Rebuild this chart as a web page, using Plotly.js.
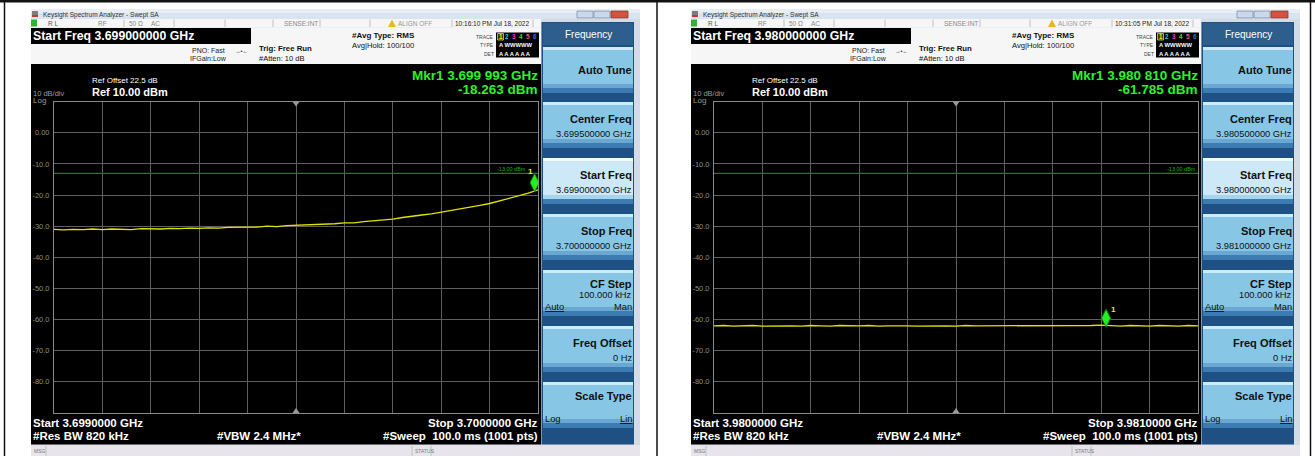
<!DOCTYPE html>
<html>
<head>
<meta charset="utf-8">
<script src="https://cdn.plot.ly/plotly-3.0.1.min.js"></script>
<style>html,body{margin:0;padding:0;background:#fff;}#chart{width:1315px;height:456px;}</style>
</head>
<body>
<div id="chart"></div>
<script>
// ---------------- data ----------------
const freq1 = [3.69900,3.69902,3.69904,3.69906,3.69908,3.69910,3.69912,3.69914,3.69916,3.69918,
  3.69920,3.69922,3.69924,3.69926,3.69928,3.69930,3.69932,3.69934,3.69936,3.69938,
  3.69940,3.69942,3.69944,3.69946,3.69948,3.69950,3.69952,3.69954,3.69956,3.69958,
  3.69960,3.69962,3.69964,3.69966,3.69968,3.69970,3.69972,3.69974,3.69976,3.69978,
  3.69980,3.69982,3.69984,3.69986,3.69988,3.69990,3.69992,3.69994,3.69996,3.69998,3.70000];
const level1 = [-31.0,-31.2,-31.0,-31.1,-30.9,-31.1,-30.9,-31.0,-31.1,-30.8,
  -30.9,-30.9,-30.7,-30.8,-30.6,-30.7,-30.5,-30.6,-30.4,-30.4,
  -30.2,-30.3,-30.0,-30.1,-29.8,-29.7,-29.6,-29.6,-29.3,-29.2,
  -28.9,-28.9,-28.5,-28.3,-27.9,-27.7,-27.2,-26.9,-26.4,-26.0,
  -25.5,-25.0,-24.5,-24.0,-23.3,-22.7,-21.9,-21.2,-20.3,-19.4,-18.3];
const freq2 = [3.98000,3.98002,3.98004,3.98006,3.98008,3.98010,3.98012,3.98014,3.98016,3.98018,
  3.98020,3.98022,3.98024,3.98026,3.98028,3.98030,3.98032,3.98034,3.98036,3.98038,
  3.98040,3.98042,3.98044,3.98046,3.98048,3.98050,3.98052,3.98054,3.98056,3.98058,
  3.98060,3.98062,3.98064,3.98066,3.98068,3.98070,3.98072,3.98074,3.98076,3.98078,
  3.98080,3.98082,3.98084,3.98086,3.98088,3.98090,3.98092,3.98094,3.98096,3.98098,3.98100];
const level2 = [-62.0,-61.9,-62.1,-62.0,-61.9,-62.1,-62.0,-61.9,-62.0,-62.1,
  -61.9,-62.0,-62.1,-61.9,-62.0,-62.0,-61.9,-62.1,-62.0,-61.9,
  -62.0,-62.1,-62.0,-61.9,-62.0,-62.1,-61.9,-62.0,-62.0,-62.1,
  -61.9,-62.0,-62.1,-61.9,-62.0,-62.0,-61.9,-62.1,-62.0,-61.9,
  -61.8,-62.0,-62.1,-61.9,-62.0,-62.1,-61.9,-62.0,-62.1,-61.9,-62.0];
const spanStart = [3.699, 3.980];
const spanStop = [3.700, 3.981];
const limitLevel = -13.0;
const mkrFreq = [3.699993, 3.980810];
const mkrLevel = [-18.263, -61.785];
const refLevel = 10, bottomLevel = -90;
const yTickVals = [0,-10,-20,-30,-40,-50,-60,-70,-80];
const yTickText = ['0.00','-10.0','-20.0','-30.0','-40.0','-50.0','-60.0','-70.0','-80.0'];
const startFreqText = ['Start Freq 3.699000000 GHz','Start Freq 3.980000000 GHz'];
const timeText = ['10:16:10 PM Jul 18, 2022','10:31:05 PM Jul 18, 2022'];
const mkrFreqText = ['Mkr1 3.699 993 GHz','Mkr1 3.980 810 GHz'];
const mkrLevelText = ['-18.263 dBm','-61.785 dBm'];
const centerText = ['3.699500000 GHz','3.980500000 GHz'];
const startText = ['3.699000000 GHz','3.980000000 GHz'];
const stopText = ['3.700000000 GHz','3.981000000 GHz'];
const bottomStart = ['Start 3.6990000 GHz','Start 3.9800000 GHz'];
const bottomStop = ['Stop 3.7000000 GHz','Stop 3.9810000 GHz'];

// ---------------- helpers ----------------
const W = 1315, H = 456;
const FONT = 'Liberation Sans, Arial, sans-serif';
const px = v => v / W;
const py = v => 1 - v / H;
const shapes = [], annotations = [];
function rect(x0, y0, x1, y1, fill, lc, lw) {
  shapes.push({type:'rect', xref:'paper', yref:'paper', x0:px(x0), x1:px(x1), y0:py(y1), y1:py(y0),
    fillcolor:fill, line:{width: lc ? (lw||1) : 0, color: lc || fill}, layer:'below'});
}
function line(x0, y0, x1, y1, color, w) {
  shapes.push({type:'line', xref:'paper', yref:'paper', x0:px(x0), x1:px(x1), y0:py(y0), y1:py(y1),
    line:{width:w||1, color:color}, layer:'above'});
}
function poly(pts, fill) {
  const d = pts.map((p,i)=>(i?'L':'M')+px(p[0]).toFixed(5)+','+py(p[1]).toFixed(5)).join(' ')+' Z';
  shapes.push({type:'path', xref:'paper', yref:'paper', path:d, fillcolor:fill, line:{width:0}, layer:'above'});
}
function text(x, y, t, o) {
  o = o || {};
  annotations.push({xref:'paper', yref:'paper', x:px(x), y:py(y), text:t, showarrow:false,
    xanchor:o.anchor||'left', yanchor:'middle', borderpad:0,
    font:{family:FONT, size:o.size||8, color:o.color||'#000', weight:o.bold?700:400}});
}

// ---------------- chrome for one analyzer screen ----------------
function screen(i) {
  const o = i * 660;
  const X = v => v + o;
  // window frame
  rect(X(31), 9, X(640), 456, '#d3dbe5');
  rect(X(31), 9, X(640), 19, '#d9e4f0');
  rect(X(31), 9, X(640), 13, '#e7eef6');
  rect(X(32), 11, X(38), 17, '#7d7d7d');
  rect(X(32), 15, X(38), 17, '#c43a32');
  text(X(42), 14.5, 'Keysight Spectrum Analyzer - Swept SA', {size:6.5, color:'#333'});
  rect(X(577), 11, X(593), 18, '#c9d8ea', '#7d90a8', 0.8);
  rect(X(594), 11, X(610), 18, '#c9d8ea', '#7d90a8', 0.8);
  rect(X(611), 11, X(628), 18, '#d4533f', '#8c3a2c', 0.8);
  // status row
  rect(X(31), 19, X(541), 27.5, '#f6f6f6');
  [124, 174, 225, 273, 320, 370, 452, 533].forEach(v => line(X(v), 19.5, X(v), 27, '#b5b5b5', 0.8));
  rect(X(31), 19.5, X(37), 26.5, '#35b035');
  text(X(47), 23.3, 'R L', {size:6.5, color:'#555'});
  text(X(97), 23.3, 'RF', {size:6.5, color:'#888'});
  text(X(128), 23.3, '50 Ω', {size:6.5, color:'#888'});
  text(X(150), 23.3, 'AC', {size:6.5, color:'#888'});
  text(X(283), 23.3, 'SENSE:INT', {size:6.5, color:'#888'});
  poly([[X(388),27],[X(392),19.5],[X(396),27]], '#e8b820');
  text(X(397), 23.3, 'ALIGN OFF', {size:6.5, color:'#999'});
  text(X(454), 23.3, timeText[i], {size:6.5, color:'#222'});
  // info area
  rect(X(31), 27.5, X(541), 64, '#f6f6f6');
  rect(X(31), 28, X(251), 44, '#000');
  text(X(32), 36.3, startFreqText[i], {size:12.3, bold:true, color:'#fff'});
  text(X(191), 50.5, 'PNO: Fast', {size:7, color:'#222'});
  text(X(234), 50.5, '→•←', {size:5.5, color:'#222'});
  text(X(189), 58.5, 'IFGain:Low', {size:7, color:'#222'});
  text(X(258), 48.2, 'Trig: Free Run', {size:7.8, bold:true, color:'#111'});
  text(X(258), 58.8, '#Atten: 10 dB', {size:7.5, color:'#111'});
  text(X(351), 35.8, '#Avg Type: RMS', {size:8, bold:true, color:'#111'});
  text(X(351), 45.8, 'Avg|Hold: 100/100', {size:7.6, color:'#111'});
  rect(X(496), 32.5, X(539), 57.5, '#000');
  text(X(495), 36.5, 'TRACE', {size:5, color:'#444', anchor:'right'});
  text(X(495), 45.2, 'TYPE', {size:5, color:'#444', anchor:'right'});
  text(X(495), 53.5, 'DET', {size:5, color:'#444', anchor:'right'});
  rect(X(497.5), 33.5, X(503.5), 40, '#3a3a00', '#e0e000', 0.8);
  const tc = ['#f0f000','#18c8f0','#e040e0','#30e030','#ff5080','#4060ff'];
  ['1','2','3','4','5','6'].forEach((t,k) => text(X(500.5 + k*6.9), 36.8, t, {size:6.3, bold:true, color:tc[k], anchor:'center'}));
  text(X(497.5), 45.2, 'A WWWWW', {size:5.8, bold:true, color:'#fff'});
  text(X(497.5), 53.5, 'A A A A A A', {size:5.8, bold:true, color:'#fff'});
  // display
  rect(X(31), 64, X(541), 444.5, '#000');
  text(X(91), 81, 'Ref Offset 22.5 dB', {size:8, color:'#fff'});
  text(X(91), 92.3, 'Ref 10.00 dBm', {size:11, bold:true, color:'#fff'});
  text(X(32), 93, '10 dB/div', {size:7.5, color:'#999'});
  text(X(32), 100, 'Log', {size:8, color:'#999'});
  text(X(538.5), 75, mkrFreqText[i], {size:13.5, bold:true, color:'#2ef02e', anchor:'right'});
  text(X(538.5), 89, mkrLevelText[i], {size:13.5, bold:true, color:'#2ef02e', anchor:'right'});
  text(X(i ? 537 : 527), 168.5, '-13.00 dBm', {size:5.5, color:'#1fb01f', anchor:'right'});
  poly([[X(292.5),101.5],[X(299.5),101.5],[X(296),106.5]], '#9a9a9a');
  poly([[X(292.5),413],[X(299.5),413],[X(296),408]], '#9a9a9a');
  text(X(32), 423, bottomStart[i], {size:11.5, bold:true, color:'#fff'});
  text(X(32), 436, '#Res BW 820 kHz', {size:11.5, bold:true, color:'#fff'});
  text(X(216), 436, '#VBW 2.4 MHz*', {size:11.5, bold:true, color:'#fff'});
  text(X(538.5), 423, bottomStop[i], {size:11.5, bold:true, color:'#fff', anchor:'right'});
  text(X(538.5), 436, '#Sweep  100.0 ms (1001 pts)', {size:11.5, bold:true, color:'#fff', anchor:'right'});
  // msg bar
  rect(X(31), 445, X(640), 456, '#e7e5eb');
  line(X(46), 446, X(46), 456, '#b8b8b8', 0.8);
  line(X(412), 446, X(412), 456, '#b8b8b8', 0.8);
  line(X(431), 446, X(431), 456, '#b8b8b8', 0.8);
  text(X(32.5), 451, 'MSG', {size:5, color:'#777'});
  text(X(413.5), 451, 'STATUS', {size:5, color:'#777'});
  // softkeys
  rect(X(541.5), 22, X(634), 444.5, '#1f5084');
  rect(X(543), 23, X(633), 45, '#2e5e8e');
  text(X(588), 34, 'Frequency', {size:10, color:'#fff', anchor:'center'});
  const tops = [47, 102, 158, 214, 270, 326, 382];
  tops.forEach((t,k) => {
    const sel = (k === 2);
    rect(X(543), t, X(633), t+3, sel ? '#f2fafe' : '#cfeaf8');
    rect(X(543), t+3, X(633), t+37, sel ? '#cde8f6' : '#88c6e6');
    rect(X(543), t+37, X(633), t+41, sel ? '#a8d3ec' : '#6aa8d2');
    rect(X(543), t+41, X(633), t+46, '#3d7cb2');
  });
  const R = X(632.5);
  text(R, 70, 'Auto Tune', {size:11, bold:true, anchor:'right', color:'#111'});
  text(R, 119, 'Center Freq', {size:11, bold:true, anchor:'right', color:'#111'});
  text(R, 133.5, centerText[i], {size:9.3, anchor:'right', color:'#111'});
  text(R, 175, 'Start Freq', {size:11, bold:true, anchor:'right', color:'#111'});
  text(R, 189.5, startText[i], {size:9.3, anchor:'right', color:'#111'});
  text(R, 231, 'Stop Freq', {size:11, bold:true, anchor:'right', color:'#111'});
  text(R, 245.5, stopText[i], {size:9.3, anchor:'right', color:'#111'});
  text(R, 283.5, 'CF Step', {size:11, bold:true, anchor:'right', color:'#111'});
  text(R, 295, '100.000 kHz', {size:9.3, anchor:'right', color:'#111'});
  text(R, 306.5, 'Man', {size:9.3, anchor:'right', color:'#111'});
  text(X(544), 306.5, '<u>Auto</u>', {size:9.3, color:'#111'});
  text(R, 343, 'Freq Offset', {size:11, bold:true, anchor:'right', color:'#111'});
  text(R, 358, '0 Hz', {size:9.3, anchor:'right', color:'#111'});
  text(R, 395.5, 'Scale Type', {size:11, bold:true, anchor:'right', color:'#111'});
  text(X(544), 419, 'Log', {size:9.3, color:'#111'});
  text(R, 419, '<u>Lin</u>', {size:9.3, anchor:'right', color:'#111'});
}
screen(0);
screen(1);

// page (table) borders
rect(0, 0, W, 2.5, '#111');
line(4.5, 0, 4.5, H, '#111', 1.5);
line(657, 0, 657, H, '#111', 1.5);
line(1310.5, 0, 1310.5, H, '#111', 1.5);

// ---------------- traces ----------------
const gridTop = 101.7, gridBot = 413;
const dbPerPx = (refLevel - bottomLevel) / (gridBot - gridTop);
const diamondLift = 7 * dbPerPx; // diamond sits on the trace point
const TRACE_COLOR = '#e2e200';
const traces = [];
const sets = [[freq1, level1], [freq2, level2]];
sets.forEach((s, i) => {
  const xa = i ? 'x2' : 'x', ya = i ? 'y2' : 'y';
  traces.push({x:[spanStart[i], spanStop[i]], y:[limitLevel, limitLevel], xaxis:xa, yaxis:ya,
    mode:'lines', line:{color:'#0a8a0a', width:1.2}, hoverinfo:'skip'});
  traces.push({x:s[0], y:s[1], xaxis:xa, yaxis:ya, mode:'lines', line:{color:TRACE_COLOR, width:1.3}, hoverinfo:'skip'});
  traces.push({x:[mkrFreq[i]], y:[mkrLevel[i] + diamondLift], xaxis:xa, yaxis:ya, mode:'markers',
    marker:{symbol:'diamond-tall', size:13, color:'#22ee22', line:{color:'#0a7a0a', width:0.8}}, hoverinfo:'skip'});
  annotations.push({xref:xa, yref:ya, x:mkrFreq[i], y:mkrLevel[i], text:'1', showarrow:false,
    xshift: i ? 7 : -4, yshift: i ? 16 : 18, font:{family:FONT, size:8, color:'#f0f000', weight:700}});
});

function xaxisCfg(i) {
  return {domain:[px(54 + i*660), px(538 + i*660)], range:[spanStart[i], spanStop[i]],
    tick0: spanStart[i], dtick: (spanStop[i]-spanStart[i])/10, showticklabels:false, ticks:'',
    showgrid:true, gridcolor:'#5f5f5f', gridwidth:1, zeroline:false,
    showline:true, mirror:true, linecolor:'#8a8a8a', linewidth:1, fixedrange:true,
    anchor: i ? 'y2' : 'y'};
}
function yaxisCfg(i) {
  return {domain:[1 - gridBot/H, 1 - gridTop/H], range:[bottomLevel, refLevel],
    tickvals:yTickVals, ticktext:yTickText, ticks:'', ticklabelstandoff:2,
    tickfont:{family:FONT, size:7.5, color:'#8e8e8e'},
    showgrid:true, gridcolor:'#5f5f5f', gridwidth:1, zeroline:false,
    showline:true, mirror:true, linecolor:'#8a8a8a', linewidth:1, fixedrange:true,
    anchor: i ? 'x2' : 'x'};
}

const layout = {
  width:W, height:H, autosize:false,
  margin:{l:0, r:0, t:0, b:0, pad:0},
  paper_bgcolor:'#ffffff', plot_bgcolor:'#000000',
  showlegend:false, hovermode:false,
  xaxis:xaxisCfg(0), yaxis:yaxisCfg(0),
  xaxis2:xaxisCfg(1), yaxis2:yaxisCfg(1),
  shapes:shapes, annotations:annotations
};
Plotly.newPlot('chart', traces, layout, {staticPlot:true, displayModeBar:false});
</script>
</body>
</html>
